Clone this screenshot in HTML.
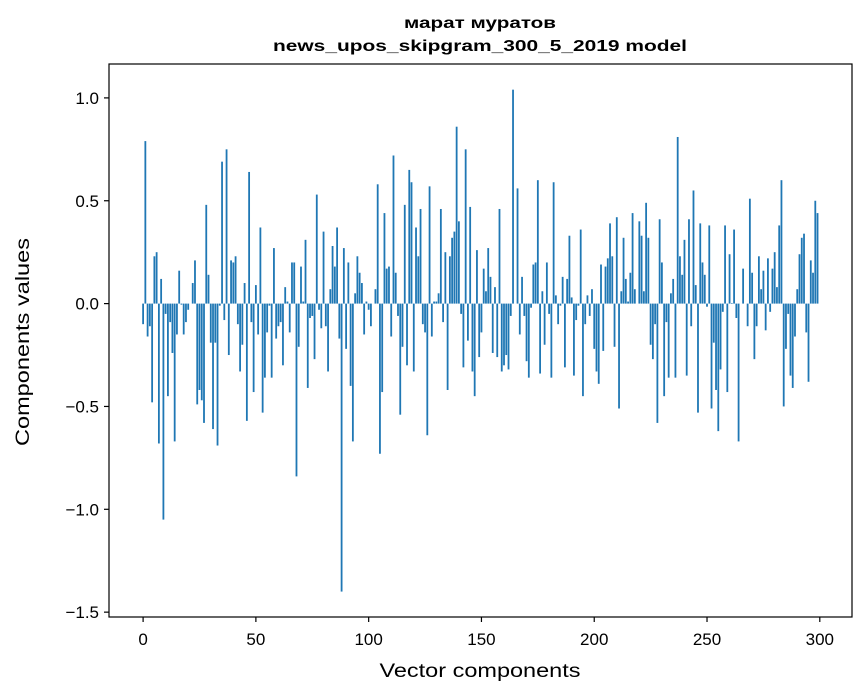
<!DOCTYPE html>
<html><head><meta charset="utf-8"><style>
html,body{margin:0;padding:0;background:#fff;}
svg{display:block;font-family:"Liberation Sans","DejaVu Sans",sans-serif;}
</style></head>
<body>
<svg id="chart" width="867" height="696" viewBox="0 0 867 696" xmlns="http://www.w3.org/2000/svg">
<rect x="0" y="0" width="867" height="696" fill="#fff"/>
<text x="480" y="28" text-anchor="middle" font-size="16" font-weight="bold" fill="#000" textLength="152" lengthAdjust="spacingAndGlyphs">марат муратов</text>
<text x="480" y="51" text-anchor="middle" font-size="16" font-weight="bold" fill="#000" textLength="414" lengthAdjust="spacingAndGlyphs">news_upos_skipgram_300_5_2019 model</text>
<g id="bars"></g>
<g id="yticks"></g>
<g id="xticks"></g>
<rect x="109" y="64" width="743" height="553" fill="none" stroke="#000" stroke-width="1.2"/>
<text x="480" y="677" text-anchor="middle" font-size="19" fill="#000" textLength="201" lengthAdjust="spacingAndGlyphs">Vector components</text>
<text transform="translate(29,342) rotate(-90)" text-anchor="middle" font-size="19" fill="#000" textLength="208" lengthAdjust="spacingAndGlyphs">Components values</text>
</svg>
<script>
const values = [
-0.10,0.79,-0.16,-0.11,-0.48,0.23,0.25,-0.68,0.12,-1.05,
-0.05,-0.45,-0.09,-0.24,-0.67,-0.15,0.16,-0.005,-0.15,-0.09,
-0.03,0.0,0.10,0.21,-0.49,-0.42,-0.47,-0.58,0.48,0.14,
-0.19,-0.61,-0.19,-0.69,-0.01,0.69,-0.08,0.75,-0.25,0.21,
0.20,0.23,-0.10,-0.33,-0.20,0.10,-0.57,0.64,-0.09,-0.43,
0.09,-0.15,0.37,-0.53,-0.36,-0.14,-0.01,-0.36,0.27,-0.17,
-0.11,-0.09,-0.30,0.08,0.01,-0.14,0.20,0.20,-0.84,-0.21,
0.18,0.01,0.31,-0.41,-0.07,-0.06,-0.27,0.53,-0.03,-0.12,
0.35,-0.11,-0.33,0.07,0.28,0.18,0.37,-0.17,-1.40,0.27,
-0.22,0.20,-0.40,-0.67,0.05,0.23,0.15,0.10,-0.15,0.01,
-0.03,-0.11,0.0,0.07,0.58,-0.73,-0.43,0.44,0.17,0.18,
-0.16,0.72,0.15,-0.06,-0.54,-0.21,0.48,-0.30,0.65,0.59,
-0.33,0.37,0.23,0.46,-0.10,-0.14,-0.64,0.57,-0.16,0.01,
0.01,0.05,0.46,-0.09,0.25,-0.42,0.23,0.32,0.35,0.86,
0.40,-0.05,-0.31,0.75,-0.18,0.47,-0.33,-0.45,0.26,-0.26,
-0.14,0.17,0.06,0.27,0.13,-0.24,0.08,-0.26,0.46,-0.33,
-0.30,-0.25,-0.32,-0.06,1.04,0.0,0.56,-0.15,0.13,-0.06,
-0.28,-0.36,-0.02,0.19,0.20,0.60,-0.34,0.06,-0.20,0.20,
-0.05,-0.36,0.59,0.04,-0.10,-0.01,0.13,-0.31,0.12,0.33,
0.03,-0.35,-0.08,-0.01,0.36,-0.45,-0.10,0.04,-0.06,0.07,
-0.22,-0.33,-0.39,0.19,-0.23,0.18,0.22,0.39,0.23,-0.21,
0.42,-0.51,0.06,0.32,0.12,0.01,0.15,0.44,0.07,0.0,
0.40,0.33,0.06,0.49,0.32,-0.20,-0.27,-0.10,-0.58,0.41,
0.20,-0.45,-0.09,-0.36,0.05,0.12,-0.36,0.81,0.23,0.14,
0.31,-0.35,0.41,-0.11,0.55,0.09,-0.53,0.39,0.20,0.14,
-0.015,0.38,-0.51,-0.19,-0.42,-0.62,-0.32,-0.04,0.38,-0.43,
0.24,0.003,0.36,-0.07,-0.67,0.0,0.17,0.0,-0.11,0.51,
0.15,-0.27,-0.11,0.23,0.07,0.16,-0.13,0.22,-0.04,0.17,
0.25,0.08,0.38,0.60,-0.50,-0.22,-0.05,-0.35,-0.41,-0.16,
0.07,0.24,0.32,0.34,-0.14,-0.38,0.21,0.15,0.50,0.44
];
const yTickValues = [1.0,0.5,0.0,-0.5,-1.0,-1.5];
const yTickLabels = ["1.0","0.5","0.0","\u22120.5","\u22121.0","\u22121.5"];
const xTickValues = [0,50,100,150,200,250,300];
const xTickLabels = ["0","50","100","150","200","250","300"];

const NS = "http://www.w3.org/2000/svg";
const xScale = v => 143.1 + (v) * (819.8 - 143.1) / 300;
const yScale = v => 303.6 - v * 205.7;
const barW = 0.8 * (819.8 - 143.1) / 300;

const gb = document.getElementById('bars');
values.forEach((v, i) => {
  const r = document.createElementNS(NS, 'rect');
  const y0 = yScale(0), y1 = yScale(v);
  r.setAttribute('x', (xScale(i) - barW / 2).toFixed(2));
  r.setAttribute('y', Math.min(y0, y1).toFixed(2));
  r.setAttribute('width', barW.toFixed(2));
  r.setAttribute('height', Math.max(Math.abs(y1 - y0), 0.01).toFixed(2));
  r.setAttribute('fill', '#1f77b4');
  
  
  gb.appendChild(r);
});

const gy = document.getElementById('yticks');
yTickValues.forEach((v, i) => {
  const y = yScale(v);
  const l = document.createElementNS(NS, 'line');
  l.setAttribute('x1', 104); l.setAttribute('x2', 109);
  l.setAttribute('y1', y); l.setAttribute('y2', y);
  l.setAttribute('stroke', '#000'); l.setAttribute('stroke-width', '1.2');
  
  
  gy.appendChild(l);
  const t = document.createElementNS(NS, 'text');
  t.setAttribute('x', 99); t.setAttribute('y', y + 6);
  t.setAttribute('text-anchor', 'end'); t.setAttribute('font-size', '17');
  t.textContent = yTickLabels[i];
  
  
  gy.appendChild(t);
});

const gx = document.getElementById('xticks');
xTickValues.forEach((v, i) => {
  const x = xScale(v);
  const l = document.createElementNS(NS, 'line');
  l.setAttribute('x1', x); l.setAttribute('x2', x);
  l.setAttribute('y1', 617); l.setAttribute('y2', 622);
  l.setAttribute('stroke', '#000'); l.setAttribute('stroke-width', '1.2');
  
  
  gx.appendChild(l);
  const t = document.createElementNS(NS, 'text');
  t.setAttribute('x', x); t.setAttribute('y', 645);
  t.setAttribute('text-anchor', 'middle'); t.setAttribute('font-size', '17');
  t.textContent = xTickLabels[i];
  
  
  gx.appendChild(t);
});
</script>
</body></html>
